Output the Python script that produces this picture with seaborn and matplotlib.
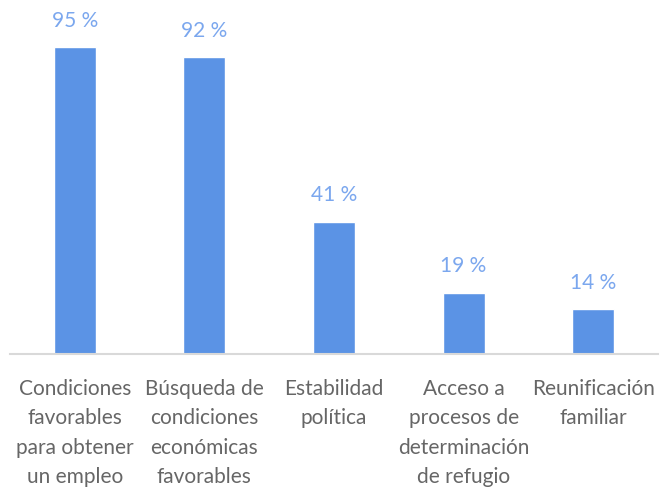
import matplotlib
matplotlib.use("Agg")
import matplotlib.pyplot as plt
import seaborn as sns
import pandas as pd

# Datos del gráfico
motivos = [
    "Condiciones\nfavorables\npara obtener\nun empleo",
    "Búsqueda de\ncondiciones\neconómicas\nfavorables",
    "Estabilidad\npolítica",
    "Acceso a\nprocesos de\ndeterminación\nde refugio",
    "Reunificación\nfamiliar",
]
porcentajes = [95, 92, 41, 19, 14]
etiquetas = ["95 %", "92 %", "41 %", "19 %", "14 %"]

df = pd.DataFrame({"motivo": motivos, "porcentaje": porcentajes})

sns.set_style("white")
plt.rcParams["font.family"] = ["Lato", "DejaVu Sans"]

fig = plt.figure(figsize=(6.64, 4.94), dpi=100)
ax = fig.add_axes([10 / 664, 140 / 494, 648 / 664, 323 / 494])

sns.barplot(data=df, x="motivo", y="porcentaje", color="#5B93E5",
            saturation=1, width=0.325, ax=ax)

for i, (v, t) in enumerate(zip(porcentajes, etiquetas)):
    ax.text(i, v + 5, t, ha="center", va="bottom", fontsize=15,
            color="#7BA7EE", fontweight="normal")

ax.set_ylim(0, 100)
ax.set_xlim(-0.5, 4.5)
ax.set_xlabel("")
ax.set_ylabel("")
ax.set_yticks([])
ax.tick_params(axis="x", length=0, pad=18, labelsize=15, labelcolor="#666666")
for lbl in ax.get_xticklabels():
    lbl.set_fontweight("normal")
    lbl.set_linespacing(1.58)

for s in ["top", "right", "left"]:
    ax.spines[s].set_visible(False)
ax.spines["bottom"].set_color("#D9D9D9")
ax.spines["bottom"].set_linewidth(1.5)

fig.savefig("out.png", dpi=100)
